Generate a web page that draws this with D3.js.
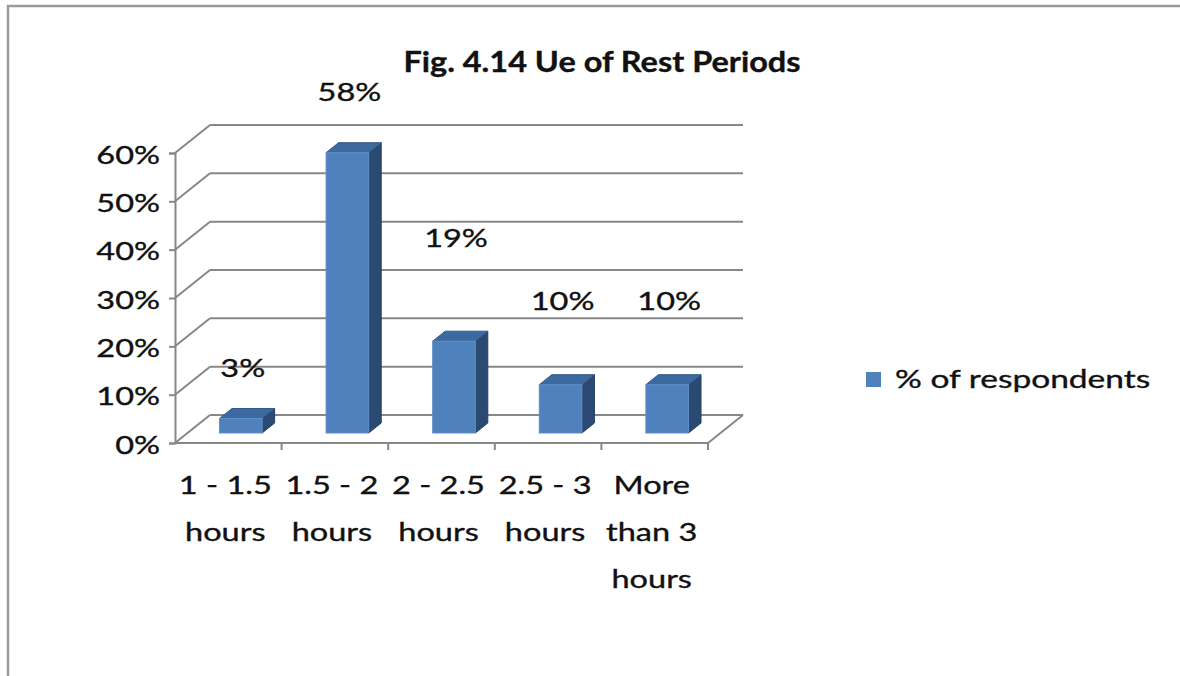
<!DOCTYPE html>
<html>
<head>
<meta charset="utf-8" />
<title>Fig. 4.14 Ue of Rest Periods</title>
<script src="https://d3js.org/d3.v7.min.js"></script>
<style>
  body { margin: 0; background: #fff; }
  text { font-family: Lato, "Open Sans", sans-serif; fill: #111; stroke: #111; stroke-width: 0.35px; }
</style>
</head>
<body>
<svg id="viz"></svg>
<script>
// data
var categories = ["1 - 1.5 hours", "1.5 - 2 hours", "2 - 2.5 hours", "2.5 - 3 hours", "More than 3 hours"];
var categoryLines = [["1 - 1.5", "hours"], ["1.5 - 2", "hours"], ["2 - 2.5", "hours"], ["2.5 - 3", "hours"], ["More", "than 3", "hours"]];
var values = [0.03, 0.58, 0.19, 0.10, 0.10];
var yTicks = [0, 0.1, 0.2, 0.3, 0.4, 0.5, 0.6];
var seriesName = "% of respondents";
var title = "Fig. 4.14 Ue of Rest Periods";

// layout
var W = 1180, H = 676;
var X0 = 175, X1 = 708, Y0 = 443, YTOP = 153;
var DX = 35, DY = -28;          // depth of the 3d box
var f0 = 0.357, f1 = 0.714;     // bar front / back depth fraction
var SX = 1.3;                   // the source picture is stretched sideways
var labelLift = [42, 52, 94, 75, 75]; // excel puts its 3d labels oddly

var svg = d3.select("#viz").attr("width", W).attr("height", H);

svg.append("rect")
  .attr("x", 8).attr("y", 6)
  .attr("width", W + 10).attr("height", H + 10)
  .attr("fill", "#fff").attr("stroke", "#9a9a9a").attr("stroke-width", 2.5);

var yScale = d3.scaleLinear().domain([0, 0.6]).range([Y0, YTOP]);
var xScale = d3.scaleBand().domain(categories).range([X0, X1])
  .paddingInner(0.6).paddingOuter(0.3);
var xCat = d3.scaleBand().domain(categories).range([X0, X1]);

function sText(g, x, y, str, size, anchor, weight, sx) {
  return g.append("g").attr("transform", "translate(" + x + "," + y + ")")
    .append("text")
    .attr("transform", "scale(" + (sx || SX) + ",1)")
    .attr("text-anchor", anchor)
    .style("font-size", size + "px")
    .style("font-weight", weight || "normal")
    .text(str);
}

// walls and gridlines
var grid = svg.append("g").attr("stroke", "#878787").attr("stroke-width", 2).attr("fill", "none");
yTicks.forEach(function(t) {
  var y = yScale(t);
  grid.append("line").attr("x1", X0).attr("y1", y).attr("x2", X0 + DX).attr("y2", y + DY);
  grid.append("line").attr("x1", X0 + DX).attr("y1", y + DY).attr("x2", X1 + DX).attr("y2", y + DY);
});
grid.append("line").attr("x1", X0).attr("y1", Y0).attr("x2", X1).attr("y2", Y0);
grid.append("line").attr("x1", X1).attr("y1", Y0).attr("x2", X1 + DX).attr("y2", Y0 + DY);

// x ticks at category boundaries
categories.forEach(function(c) {
  var x = xCat(c) + xCat.step();
  grid.append("line").attr("x1", x).attr("y1", Y0).attr("x2", x).attr("y2", Y0 + 7);
});

// y axis
var yAxis = d3.axisLeft(yScale).tickValues(yTicks).tickFormat(d3.format(".0%"))
  .tickSize(6).tickPadding(5.5);
var yg = svg.append("g").attr("transform", "translate(" + X0 + ",0)").call(yAxis);
yg.select(".domain").attr("stroke", "#878787").attr("stroke-width", 2);
yg.selectAll(".tick line").attr("stroke", "#878787").attr("stroke-width", 2);
yg.selectAll(".tick text")
  .attr("dy", null).attr("y", 10)
  .attr("transform", "scale(" + SX + ",1)")
  .style("font-size", "25px").style("font-family", "Lato, sans-serif").attr("fill", "#111");

// bars as 3d boxes
var bw = xScale.bandwidth();
var ddx = DX * (f1 - f0), ddy = DY * (f1 - f0);
var bars = svg.append("g").selectAll("g").data(values).enter().append("g");
function bx(d, i) { return xScale(categories[i]) + DX * f0; }
function byTop(d) { return yScale(d) + DY * f0; }
var yBase = yScale(0) + DY * f0;

bars.append("path").attr("fill", "#2b4a72").attr("stroke", "#243f62").attr("stroke-width", 1)
  .attr("d", function(d, i) {
    var x = bx(d, i) + bw, t = byTop(d);
    return "M" + x + "," + t + "L" + (x + ddx) + "," + (t + ddy) + "L" + (x + ddx) + "," + (yBase + ddy) + "L" + x + "," + yBase + "Z";
  });
bars.append("path").attr("fill", "#3c69a0").attr("stroke", "#34598a").attr("stroke-width", 1)
  .attr("d", function(d, i) {
    var x = bx(d, i), t = byTop(d);
    return "M" + x + "," + t + "L" + (x + ddx) + "," + (t + ddy) + "L" + (x + bw + ddx) + "," + (t + ddy) + "L" + (x + bw) + "," + t + "Z";
  });
bars.append("rect").attr("fill", "#4f81bd").attr("stroke", "#5f8fc8").attr("stroke-width", 1)
  .attr("x", bx).attr("y", byTop).attr("width", bw)
  .attr("height", function(d) { return yBase - byTop(d); });

// data labels
var fmt = d3.format(".0%");
values.forEach(function(v, i) {
  sText(svg, bx(v, i) + bw / 2 + 2, byTop(v) - labelLift[i], fmt(v), 25, "middle");
});

// category labels
categoryLines.forEach(function(lines, i) {
  var cx = xCat(categories[i]) + xCat.bandwidth() / 2 - 3;
  lines.forEach(function(s, k) {
    sText(svg, cx, 494 + k * 47, s, 25, "middle");
  });
});

// title
sText(svg, 602, 72, title, 28, "middle", "bold", 1.16);

// legend
svg.append("rect").attr("x", 866).attr("y", 372).attr("width", 15).attr("height", 15).attr("fill", "#4f81bd");
sText(svg, 895, 388, seriesName, 25, "start", "normal", 1.34);
</script>
</body>
</html>
